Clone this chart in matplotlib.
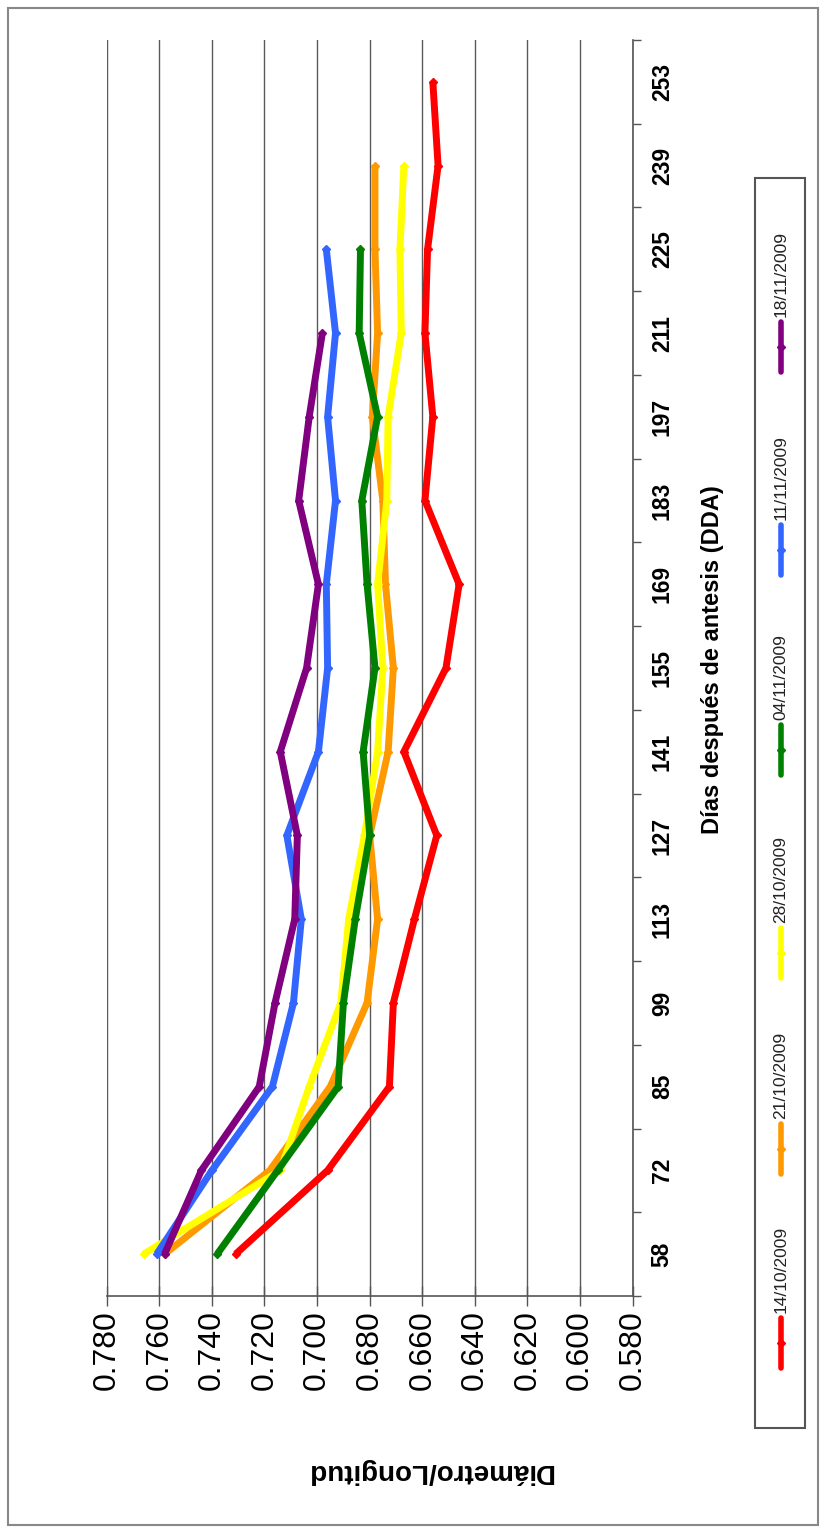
import numpy as np
import matplotlib
matplotlib.use("Agg")
import matplotlib.pyplot as plt
from matplotlib.patches import Rectangle
from matplotlib.lines import Line2D

plt.rcParams['font.family'] = ['Liberation Sans', 'DejaVu Sans']

# data
days = [58, 72, 85, 99, 113, 127, 141, 155, 169, 183, 197, 211, 225, 239, 253]
labels = ["14/10/2009", "21/10/2009", "28/10/2009", "04/11/2009", "11/11/2009", "18/11/2009"]
colors = ["#FF0000", "#FF9900", "#FFFF00", "#008000", "#3366FF", "#800080"]

s_1410 = [0.731, 0.696, 0.6725, 0.671, 0.663, 0.6545, 0.667, 0.651, 0.646, 0.659, 0.656, 0.659, 0.658, 0.654, 0.656]
s_2110 = [0.758, 0.718, 0.695, 0.681, 0.677, 0.680, 0.673, 0.671, 0.674, 0.675, 0.679, 0.677, 0.678, 0.678, None]
s_2810 = [0.766, 0.714, 0.703, 0.691, 0.688, 0.682, 0.677, 0.675, 0.677, 0.6735, 0.673, 0.668, 0.6685, 0.667, None]
s_0411 = [0.738, 0.715, 0.692, 0.690, 0.6855, 0.680, 0.6825, 0.678, 0.681, 0.683, 0.677, 0.684, 0.6835, None, None]
s_1111 = [0.761, 0.740, 0.717, 0.709, 0.706, 0.7115, 0.6995, 0.696, 0.6965, 0.693, 0.696, 0.693, 0.6965, None, None]
s_1811 = [0.758, 0.744, 0.722, 0.716, 0.7085, 0.7075, 0.714, 0.704, 0.6995, 0.707, 0.703, 0.698, None, None, None]
series = [s_1410, s_2110, s_2810, s_0411, s_1111, s_1811]

yticks = [0.58, 0.60, 0.62, 0.64, 0.66, 0.68, 0.70, 0.72, 0.74, 0.76, 0.78]

W, H = 825, 1531


def fx(x):
    return x / W


def fy(y):
    return 1 - y / H


fig = plt.figure(figsize=(W / 100, H / 100), dpi=100)
ax = fig.add_axes([fx(106.7), fy(1296), fx(632.7) - fx(106.7), fy(40) - fy(1296)])

pos = np.arange(len(days))
for vals, c in zip(series, colors):
    v = np.array(vals, dtype=float)
    ax.plot(v, pos, color=c, lw=5, marker='D', markersize=4.5,
            solid_joinstyle='miter', solid_capstyle='butt')

# value axis (bottom, reversed)
ax.set_xlim(0.78, 0.58)
ax.set_xticks(yticks)
ax.set_xticklabels([f"{t:.3f}" for t in yticks], rotation=90, fontsize=23)
ax.tick_params(axis='x', direction='inout', length=15, width=1, color='#555555', pad=3)
ax.grid(axis='x', color='#5a5a5a', lw=1.0)

# category axis (right)
ax.set_ylim(-0.5, len(days) - 0.5)
ax.yaxis.tick_right()
ax.set_yticks(np.arange(-0.5, len(days), 1.0))
ax.set_yticklabels([])
ax.set_yticks(pos, minor=True)
ax.set_yticklabels([str(d) for d in days], minor=True, rotation=90,
                   fontsize=16.5, fontweight='bold', va='center')
ax.tick_params(axis='y', which='major', direction='out', length=6, width=1, color='#555555')
ax.tick_params(axis='y', which='minor', length=0, pad=13)

for side in ['top', 'left']:
    ax.spines[side].set_visible(False)
for side in ['bottom', 'right']:
    ax.spines[side].set_color('#555555')
    ax.spines[side].set_linewidth(1.2)

# axis titles
fig.text(fx(713), fy(660), "Días después de antesis (DDA)", rotation=90,
         ha='center', va='center', fontsize=17, fontweight='bold')
fig.text(fx(430), fy(1471), "Diámetro/Longitud", rotation=180,
         ha='center', va='center', fontsize=20, fontweight='bold')

# legend (drawn by hand, rotated)
fig.patches.append(Rectangle((fx(755), fy(1428)), fx(805) - fx(755), fy(178) - fy(1428),
                             transform=fig.transFigure, fill=False,
                             edgecolor='#555555', lw=1.5))
centers = [1343, 1149, 953, 750, 550, 347]
for lab, c, yc in zip(labels, colors, centers):
    fig.lines.append(Line2D([fx(781), fx(781)], [fy(yc + 25), fy(yc - 25)],
                            transform=fig.transFigure, color=c, lw=4,
                            solid_capstyle='round'))
    fig.lines.append(Line2D([fx(781)], [fy(yc)], transform=fig.transFigure,
                            color=c, marker='D', markersize=4, lw=0))
    fig.text(fx(781), fy(yc - 30), lab, rotation=90, ha='center', va='bottom',
             fontsize=12.5, color='#222222')

# outer frame
fig.patches.append(Rectangle((fx(8), fy(1525)), fx(818) - fx(8), fy(8) - fy(1525),
                             transform=fig.transFigure, fill=False,
                             edgecolor='#888888', lw=1.5))

fig.savefig("out.png", dpi=100)
